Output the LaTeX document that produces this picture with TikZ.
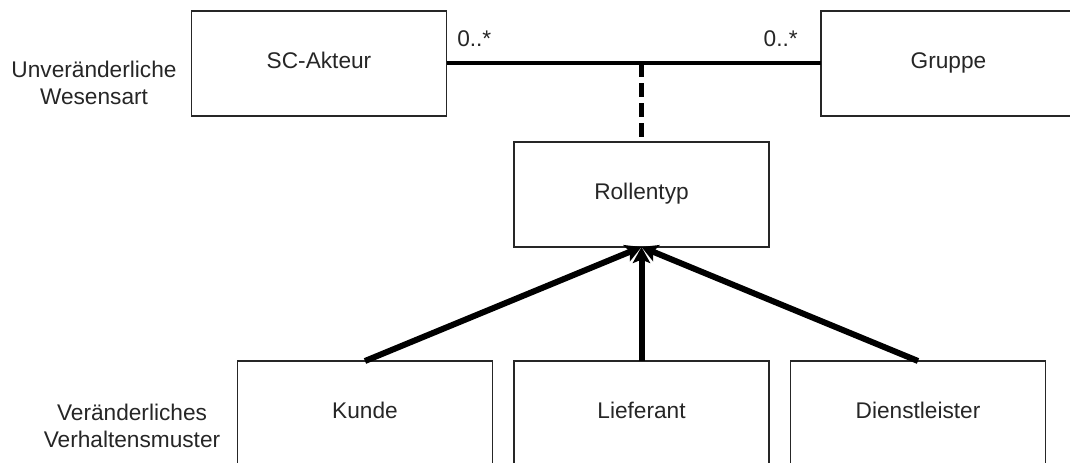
\documentclass[tikz,border=0pt]{standalone}
\usepackage{fontspec}
\setmainfont{Liberation Sans}
\usetikzlibrary{arrows.meta}
\definecolor{txt}{HTML}{262626}
\tikzset{
  box/.style={draw=black!85, line width=0.8pt, minimum width=191.25pt, minimum height=78.75pt,
    inner sep=0pt, outer sep=0pt, font=\fontsize{17}{20}\selectfont, text=txt,
    text height=0.72em, text depth=0pt},
  lbl/.style={font=\fontsize{17}{20}\selectfont, text=txt, inner sep=0pt},
  assoc/.style={line width=3pt, black},
  dashline/.style={line width=3.5pt, black, dash pattern=on 10.5pt off 4.5pt},
  genarrow/.style={line width=4.5pt, black, -{Stealth[length=12pt, width=13pt, inset=2.5pt]}}
}
\begin{document}
\begin{tikzpicture}[x=0.75pt, y=-0.75pt]
\clip (0,0) rectangle (1070,463);
\fill[white] (0,0) rectangle (1070,463);
\node[box] (sc) at (319,63.5) {SC-Akteur};
\node[box] (gr) at (948.5,63.5) {Gruppe};
\node[box] (rt) at (641.5,194.5) {Rollentyp};
\node[box] (ku) at (365,413.5) {Kunde};
\node[box] (li) at (641.5,413.5) {Lieferant};
\node[box] (di) at (918,413.5) {Dienstleister};
\node[lbl, align=center] (l1) at (94,83) {Unveränderliche\\Wesensart};
\node[lbl, align=center] (l2) at (132,426) {Veränderliches\\Verhaltensmuster};
\node[lbl, anchor=base west] (m1) at (457,47) {0..*};
\node[lbl, anchor=base east] (m2) at (798,47) {0..*};
\draw[assoc] (sc.east) -- (gr.west);
\coordinate (mid) at (rt.north |- sc.east);
\draw[dashline] (mid) -- (rt.north);
\draw[genarrow] (ku.north) -- (rt.south);
\draw[genarrow] (li.north) -- (rt.south);
\draw[genarrow] (di.north) -- (rt.south);
\end{tikzpicture}
\end{document}
